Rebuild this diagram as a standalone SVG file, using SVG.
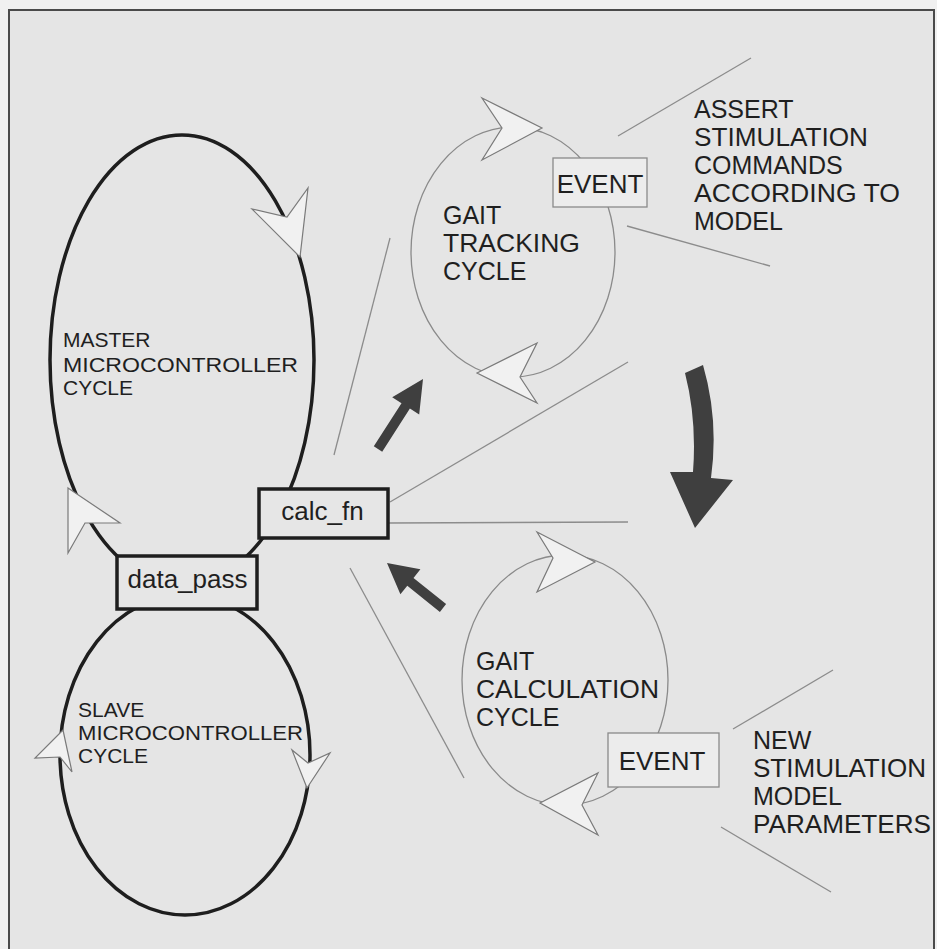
<svg xmlns="http://www.w3.org/2000/svg" width="937" height="949" viewBox="0 0 937 949">
  <style>
    text { font-family: "Liberation Sans", Arial, sans-serif; fill: #1f1f1f; }
    .lbl { font-size: 25px; }
    .small { font-size: 21px; }
    .box { font-size: 26px; text-anchor: middle; }
    .loop-bold { fill: none; stroke: #1e1e1e; stroke-width: 3.5; }
    .loop-thin { fill: none; stroke: #8a8a8a; stroke-width: 1.3; }
    .head { fill: #f1f1f1; stroke: #7a7a7a; stroke-width: 1.2; stroke-linejoin: miter; }
    .func { fill: #e6e6e6; stroke: #1e1e1e; stroke-width: 3.5; }
    .event { fill: #ececec; stroke: #8a8a8a; stroke-width: 1.3; }
    .guide { stroke: #8c8c8c; stroke-width: 1.3; fill: none; }
    .flow { fill: #3f3f3f; }
  </style>

  <!-- page and frame -->
  <rect x="0" y="0" width="937" height="949" fill="#f0f0f0"/>
  <rect x="9" y="10" width="925" height="960" fill="#e5e5e5" stroke="#4a4a4a" stroke-width="2"/>

  <!-- guide lines and flow arrows -->
  <g id="connectors">
    <line class="guide" x1="390" y1="238" x2="334" y2="455"/>
    <line class="guide" x1="390" y1="502" x2="628" y2="362"/>
    <line class="guide" x1="388" y1="523" x2="628" y2="522"/>
    <line class="guide" x1="350" y1="568" x2="464" y2="778"/>
    <line class="guide" x1="618" y1="136" x2="751" y2="58"/>
    <line class="guide" x1="627" y1="226" x2="770" y2="266"/>
    <line class="guide" x1="733" y1="729" x2="833" y2="670"/>
    <line class="guide" x1="721" y1="827" x2="831" y2="892"/>

    <polygon class="flow" points="423,379 419.2,414.6 409.9,408.6 382.2,451.7 373.8,446.3 401.5,403.2 392.2,397.2"/>
    <polygon class="flow" points="387,563 420.4,569.3 413.5,577.9 446.1,604.1 439.9,611.9 407.3,585.7 400.4,594.3"/>
    <path class="flow" d="M685,373 L703,365 Q719,420 711,478 L733,480 L695,528 L670,472 L693,472 Q697,420 685,373 Z"/>
  </g>

  <!-- master loop -->
  <g id="master-cycle">
    <ellipse class="loop-bold" cx="182" cy="360" rx="132" ry="225"/>
    <polygon class="head" points="300,257 308,188 287,217 252,209"/>
    <polygon class="head" points="68,488 120,523 85,523 68,553"/>
    <text class="small" x="63" y="347">MASTER</text>
    <text class="small" x="63" y="372" textLength="235" lengthAdjust="spacingAndGlyphs">MICROCONTROLLER</text>
    <text class="small" x="63" y="395">CYCLE</text>
  </g>

  <!-- slave loop -->
  <g id="slave-cycle">
    <ellipse class="loop-bold" cx="185" cy="755" rx="125" ry="160"/>
    <polygon class="head" points="63,730 72,772 60,757 35,758"/>
    <polygon class="head" points="307,788 330,753 308,763 292,750"/>
    <text class="small" x="78" y="717">SLAVE</text>
    <text class="small" x="78" y="740" textLength="225" lengthAdjust="spacingAndGlyphs">MICROCONTROLLER</text>
    <text class="small" x="78" y="763">CYCLE</text>
  </g>

  <!-- function boxes -->
  <g id="calc-fn">
    <rect class="func" x="259" y="489" width="129" height="49"/>
    <text class="box" x="322.5" y="520">calc_fn</text>
  </g>
  <g id="data-pass">
    <rect class="func" x="117" y="556" width="140" height="53"/>
    <text class="box" x="187.5" y="588">data_pass</text>
  </g>

  <!-- gait tracking loop -->
  <g id="gait-tracking">
    <ellipse class="loop-thin" cx="513" cy="252" rx="102" ry="125"/>
    <polygon class="head" points="542,128 482,160 502,128 482,98"/>
    <polygon class="head" points="477,373 537,343 520,377 537,403"/>
    <text class="lbl" x="443" y="224">GAIT</text>
    <text class="lbl" x="443" y="252" textLength="137" lengthAdjust="spacingAndGlyphs">TRACKING</text>
    <text class="lbl" x="443" y="280">CYCLE</text>
  </g>
  <g id="event-tracking">
    <rect class="event" x="553" y="158" width="94" height="49"/>
    <text class="box" x="600" y="193">EVENT</text>
  </g>
  <g id="assert-note">
    <text class="lbl" x="694" y="118">ASSERT</text>
    <text class="lbl" x="694" y="146" textLength="174" lengthAdjust="spacingAndGlyphs">STIMULATION</text>
    <text class="lbl" x="694" y="174">COMMANDS</text>
    <text class="lbl" x="694" y="202" textLength="206" lengthAdjust="spacingAndGlyphs">ACCORDING TO</text>
    <text class="lbl" x="694" y="230">MODEL</text>
  </g>

  <!-- gait calculation loop -->
  <g id="gait-calculation">
    <ellipse class="loop-thin" cx="565" cy="680" rx="103" ry="125"/>
    <polygon class="head" points="595,562 537,592 553,558 537,532"/>
    <polygon class="head" points="540,803 598,773 582,805 598,835"/>
    <text class="lbl" x="476" y="670">GAIT</text>
    <text class="lbl" x="476" y="698" textLength="183" lengthAdjust="spacingAndGlyphs">CALCULATION</text>
    <text class="lbl" x="476" y="726">CYCLE</text>
  </g>
  <g id="event-calculation">
    <rect class="event" x="608" y="733" width="111" height="54"/>
    <text class="box" x="662" y="770">EVENT</text>
  </g>
  <g id="parameters-note">
    <text class="lbl" x="753" y="749">NEW</text>
    <text class="lbl" x="753" y="777" textLength="173" lengthAdjust="spacingAndGlyphs">STIMULATION</text>
    <text class="lbl" x="753" y="805">MODEL</text>
    <text class="lbl" x="753" y="833" textLength="178" lengthAdjust="spacingAndGlyphs">PARAMETERS</text>
  </g>
</svg>
